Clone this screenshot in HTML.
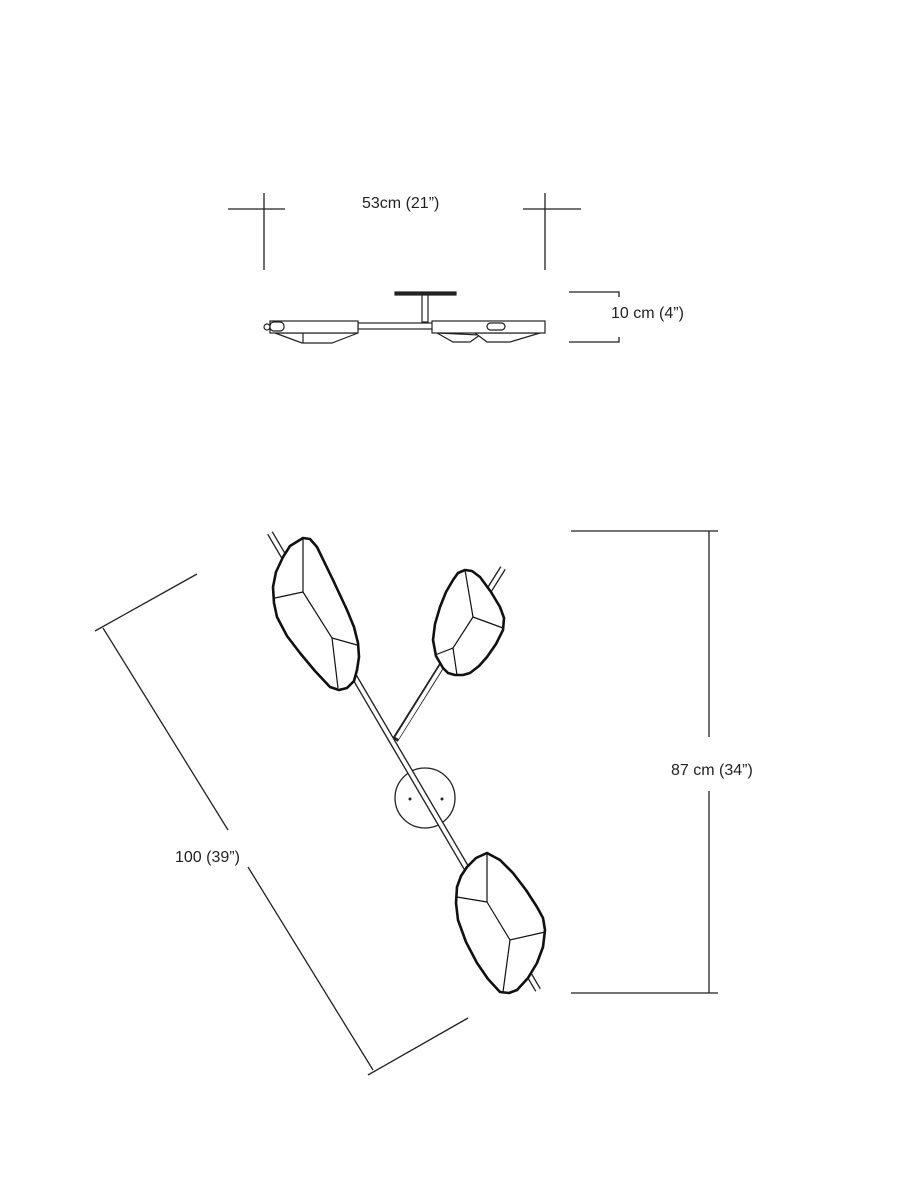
<!DOCTYPE html>
<html><head><meta charset="utf-8"><style>
html,body{margin:0;padding:0;background:#fff;}
svg{display:block;}
text{font-family:"Liberation Sans",sans-serif;font-size:16px;fill:#222;}
</style></head><body>
<svg width="901" height="1200" viewBox="0 0 901 1200" xmlns="http://www.w3.org/2000/svg">
<g stroke="#222" stroke-width="1.3" fill="none">
<line x1="264" y1="193" x2="264" y2="270"/><line x1="228" y1="209" x2="285" y2="209"/>
<line x1="545" y1="193" x2="545" y2="270"/><line x1="523" y1="209" x2="581" y2="209"/>
<polyline points="569,292 619,292 619,297"/><polyline points="569,342 619,342 619,337"/>
<line x1="709" y1="531" x2="709" y2="737"/><line x1="709" y1="791" x2="709" y2="993"/>
<line x1="571" y1="531" x2="718" y2="531"/><line x1="571" y1="993" x2="718" y2="993"/>
<line x1="95" y1="631" x2="197" y2="574"/>
<line x1="103" y1="628" x2="228" y2="830"/>
<line x1="248" y1="867" x2="373" y2="1070"/>
<line x1="368" y1="1075" x2="468" y2="1018"/>
</g>
<text x="362" y="208">53cm (21”)</text>
<text x="611" y="318">10 cm (4”)</text>
<text x="671" y="775">87 cm (34”)</text>
<text x="175" y="862">100 (39”)</text>

<g stroke="#222" stroke-width="1.2" fill="#fff">
<rect x="395" y="292" width="61" height="3" fill="#222"/>
<rect x="422" y="295" width="6" height="27"/>
<rect x="358" y="323" width="75" height="6"/>
<polygon points="275,333 302,343 332,343 358,333"/>
<line x1="303" y1="333" x2="303" y2="343"/>
<rect x="270" y="321" width="88" height="12"/>
<circle cx="267" cy="327" r="3"/>
<rect x="270" y="322" width="14" height="9" rx="4"/>
<polygon points="437,333 453,342 470,342 480,335"/>
<polygon points="475,333 487,342 510,342 540,333"/>
<rect x="432" y="321" width="113" height="12"/>
<rect x="487" y="323" width="18" height="7" rx="3.5"/>
</g>

<circle cx="425" cy="798" r="30" fill="none" stroke="#222" stroke-width="1.3"/>
<circle cx="410" cy="799" r="1.5" fill="#222"/><circle cx="442" cy="799" r="1.5" fill="#222"/>
<g stroke-linecap="butt">
<line x1="270" y1="533" x2="538" y2="990" stroke="#222" stroke-width="6.5"/>
<line x1="395" y1="740" x2="503" y2="568" stroke="#222" stroke-width="6.5"/>
<line x1="397" y1="738" x2="503" y2="568" stroke="#fff" stroke-width="3.8"/>
<line x1="270" y1="533" x2="538" y2="990" stroke="#fff" stroke-width="3.8"/>
</g>

<g stroke="#111" fill="#fff" stroke-linejoin="round" stroke-width="2.6">
<polygon points="303,538 290,546 283,557 276,572 273,587 274,603 277,617 287,636 300,653 315,671 330,687 339,690 347,688 354,681 357,670 359,657 358,643 354,627 347,610 333,580 317,547 310,539"/>
<polygon points="465,570 458,573 453,580 446,592 440,607 435,624 433,640 436,656 443,668 448,673 455,675 463,675 470,673 479,666 487,657 496,644 503,630 504,618 500,607 491,592 480,577 472,571"/>
<polygon points="487,853 476,858 467,867 461,876 457,887 456,903 458,920 466,942 477,963 488,979 500,992 509,993 517,990 528,978 537,963 543,947 545,930 543,918 537,907 526,890 513,873 500,860"/>
</g>
<g stroke="#111" stroke-width="1.2" fill="none">
<polyline points="303,538 303,592 275,598"/><polyline points="303,592 332,638 357,645"/><line x1="332" y1="638" x2="338" y2="688"/>
<polyline points="465,570 473,617 503,628"/><polyline points="473,617 453,648 435,655"/><line x1="453" y1="648" x2="457" y2="675"/>
<polyline points="487,853 487,902 457,897"/><polyline points="487,902 510,940 545,932"/><line x1="510" y1="940" x2="503" y2="992"/>
</g>
</svg>
</body></html>
